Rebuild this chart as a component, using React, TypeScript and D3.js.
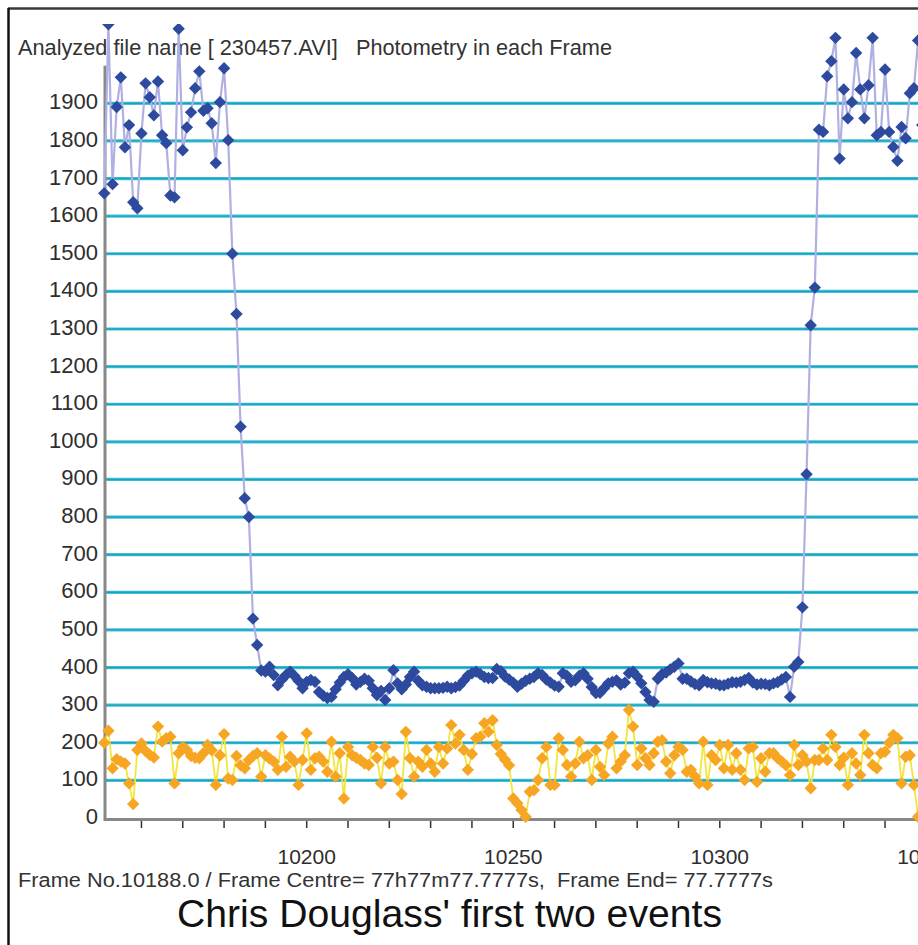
import { useRef, useEffect } from "react";
import * as d3 from "d3";

// ── Constants ─────────────────────────────────────────────────────────────────

const WIDTH = 918;
const HEIGHT = 945;
const FONT = "'Liberation Sans', Arial, sans-serif";

const TITLE = "Analyzed file name [ 230457.AVI]   Photometry in each Frame";
const FOOTER = "Frame No.10188.0 / Frame Centre= 77h77m77.7777s,  Frame End= 77.7777s";
const CAPTION = "Chris Douglass' first two events";

const FRAME_START = 10151;

// star (blue) – one value per frame from FRAME_START
const STAR_VALUES = [
  1661, 2110, 1685, 1890, 1969, 1783, 1842, 1637, 1621, 1820,
  1953, 1916, 1868, 1958, 1815, 1794, 1655, 1650, 2098, 1775,
  1836, 1876, 1940, 1985, 1880, 1887, 1847, 1741, 1903, 1993,
  1802, 1500, 1340, 1040, 850, 800, 530, 460,
  392, 389, 402, 380, 353, 368, 380, 389, 378, 365,
  345, 362, 367, 362, 335, 325, 319, 322, 342, 360,
  375, 382, 372, 355, 362, 370, 365, 345, 327, 338,
  314, 345, 393, 358, 342, 355, 375, 389, 365, 353,
  349, 345, 345, 345, 346, 349, 345, 348, 352, 365,
  378, 385, 389, 383, 375, 372, 372, 396, 390, 376,
  368, 360, 349, 357, 365, 370, 375, 385, 380, 368,
  360, 352, 349, 385, 378, 362, 366, 378, 385, 370,
  348, 332, 333, 345, 358, 362, 366, 355, 360, 385,
  389, 376, 358, 335, 314, 309, 370, 382, 387, 395,
  402, 411, 370, 370, 363, 356, 353, 367, 361, 358,
  357, 353, 353, 357, 361, 360, 362, 367, 372, 360,
  355, 357, 356, 353, 358, 361, 368, 375, 322,
  402, 415, 560, 914, 1310, 1410, 1830, 1824,
  1972, 2012, 2074, 1753, 1937, 1860, 1903, 2034, 1937, 1860,
  1948, 2074, 1815, 1824, 1990, 1824, 1784, 1747, 1837, 1807,
  1927, 1940, 2067, 1842,
];

// sky (orange) – one value per frame from FRAME_START
const SKY_VALUES = [
  200, 232, 132, 156, 150, 145, 92, 37, 181, 198,
  178, 168, 161, 243, 203, 212, 216, 92, 172, 189,
  181, 165, 160, 159, 172, 194, 180, 88, 167, 223,
  105, 101, 165, 140, 132, 154, 165, 172, 110, 167,
  158, 150, 128, 216, 136, 163, 150, 88, 154, 225,
  128, 159, 163, 150, 123, 203, 110, 172, 52, 189,
  167, 160, 154, 145, 141, 189,
  160, 92, 189, 145, 150, 101, 64, 229, 159, 110,
  150, 136, 181, 145, 123, 189, 145, 185, 247, 198,
  221, 181, 128, 170, 212, 216, 252, 229, 260, 194,
  170, 155, 140, 52, 39, 21, 3, 70, 74, 101,
  159, 189, 88, 88, 212, 181, 141, 110, 145, 203,
  159, 167, 101, 181, 136, 114, 198, 216, 132, 150,
  167, 287, 243, 141, 185, 159, 141, 172, 203,
  207, 150, 119, 167, 189, 181, 123, 128, 110, 92,
  203, 88, 167, 154, 194, 132, 194, 128, 172, 128,
  101, 185, 189, 96, 159, 123, 172, 172, 159, 150,
  140, 114, 194, 141, 167, 150, 79, 154, 154, 185,
  154, 221, 189, 141, 160, 88, 172, 145, 114, 221,
  172, 141, 132, 172, 176, 200, 221, 212, 92, 163,
  167, 88, 3,
];

const Y_TICKS = [0, 100, 200, 300, 400, 500, 600, 700, 800, 900, 1000, 1100, 1200, 1300, 1400, 1500, 1600, 1700, 1800, 1900];
const X_TICKS = [10160, 10170, 10180, 10190, 10200, 10210, 10220, 10230, 10240, 10250, 10260, 10270, 10280, 10290, 10300, 10310, 10320, 10330, 10340, 10350];
const X_LABELS = [10200, 10250, 10300, 10350];

const STAR_COLOR = "#2d4a9e";
const STAR_LINE = "#b0b0e2";
const SKY_COLOR = "#f6a623";
const SKY_LINE = "#f3e53a";
const GRID_COLOR = "#1fb0cc";

// ── D3 render ─────────────────────────────────────────────────────────────────

function render(svg: SVGSVGElement): void {
  const root = d3.select(svg);
  root.selectAll("*").remove();

  const x = d3.scaleLinear().domain([10200, 10300]).range([306.7, 719.8]);
  const y = d3.scaleLinear().domain([0, 1900]).range([818, 103.3]);

  root.append("rect").attr("width", WIDTH).attr("height", HEIGHT).attr("fill", "#fff");

  // outer frame
  root.append("line").attr("x1", 8).attr("x2", WIDTH).attr("y1", 8.5).attr("y2", 8.5)
    .attr("stroke", "#3a3a3a").attr("stroke-width", 2.5);
  root.append("line").attr("x1", 8.5).attr("x2", 8.5).attr("y1", 8).attr("y2", HEIGHT)
    .attr("stroke", "#111").attr("stroke-width", 2.5);

  // title
  root.append("text")
    .attr("x", 18).attr("y", 55)
    .attr("font-family", FONT).attr("font-size", 21.5).attr("fill", "#333")
    .attr("textLength", 594).attr("lengthAdjust", "spacingAndGlyphs")
    .style("white-space", "pre")
    .text(TITLE);

  // grid lines
  root.selectAll(".grid")
    .data(Y_TICKS.filter((d) => d > 0))
    .join("line")
    .attr("x1", 105).attr("x2", WIDTH)
    .attr("y1", (d) => y(d)).attr("y2", (d) => y(d))
    .attr("stroke", GRID_COLOR).attr("stroke-width", 3.2).attr("opacity", 0.8);
  root.selectAll(".grid2")
    .data(Y_TICKS.filter((d) => d > 0))
    .join("line")
    .attr("x1", 105).attr("x2", WIDTH)
    .attr("y1", (d) => y(d)).attr("y2", (d) => y(d))
    .attr("stroke", "#12a6c4").attr("stroke-width", 1.4);

  // y labels
  root.selectAll(".ylab")
    .data(Y_TICKS)
    .join("text")
    .attr("x", 98).attr("y", (d) => y(d) + 6)
    .attr("text-anchor", "end")
    .attr("font-family", FONT).attr("font-size", 22).attr("fill", "#2e2e2e")
    .text((d) => String(d));

  // axes
  root.append("line").attr("x1", 105).attr("x2", 105).attr("y1", y(2000)).attr("y2", 821)
    .attr("stroke", "#888").attr("stroke-width", 3);
  root.append("line").attr("x1", 104).attr("x2", WIDTH).attr("y1", 819.5).attr("y2", 819.5)
    .attr("stroke", "#888").attr("stroke-width", 3);

  root.selectAll(".xtick")
    .data(X_TICKS)
    .join("line")
    .attr("x1", (d) => x(d)).attr("x2", (d) => x(d))
    .attr("y1", 821).attr("y2", 828)
    .attr("stroke", "#333").attr("stroke-width", 1.5);

  root.selectAll(".xlab")
    .data(X_LABELS)
    .join("text")
    .attr("x", (d) => x(d)).attr("y", 864)
    .attr("text-anchor", "middle")
    .attr("font-family", FONT).attr("font-size", 21).attr("fill", "#2e2e2e")
    .text((d) => String(d));

  // footer
  root.append("text")
    .attr("x", 18).attr("y", 887)
    .attr("font-family", FONT).attr("font-size", 20).attr("fill", "#333")
    .attr("textLength", 755).attr("lengthAdjust", "spacingAndGlyphs")
    .style("white-space", "pre")
    .text(FOOTER);
  root.append("text")
    .attr("x", 177).attr("y", 927)
    .attr("font-family", FONT).attr("font-size", 39).attr("fill", "#111")
    .attr("textLength", 545).attr("lengthAdjust", "spacingAndGlyphs")
    .text(CAPTION);

  // data
  const defs = root.append("defs");
  defs.append("clipPath").attr("id", "plot-clip")
    .append("rect").attr("x", 95).attr("y", 24).attr("width", WIDTH - 95).attr("height", 810);

  const plot = root.append("g").attr("clip-path", "url(#plot-clip)");
  const diamond = "M0,-6.2L6.2,0L0,6.2L-6.2,0Z";

  const series = [
    { values: STAR_VALUES, line: STAR_LINE, marker: STAR_COLOR, width: 2.2 },
    { values: SKY_VALUES, line: SKY_LINE, marker: SKY_COLOR, width: 1.8 },
  ];

  series.forEach((s) => {
    const pts = s.values.map((v, i) => ({ f: FRAME_START + i, v }));
    const line = d3.line<{ f: number; v: number }>().x((d) => x(d.f)).y((d) => y(d.v));
    plot.append("path").attr("d", line(pts)).attr("fill", "none")
      .attr("stroke", s.line).attr("stroke-width", s.width);
    plot.selectAll(null)
      .data(pts)
      .join("path")
      .attr("d", diamond)
      .attr("transform", (d) => `translate(${x(d.f)},${y(d.v)})`)
      .attr("fill", s.marker);
  });
}

// ── Component ─────────────────────────────────────────────────────────────────

export default function App() {
  const svgRef = useRef<SVGSVGElement>(null);

  useEffect(() => {
    document.body.style.margin = "0";
    if (svgRef.current) render(svgRef.current);
  }, []);

  return (
    <svg
      ref={svgRef}
      width={WIDTH}
      height={HEIGHT}
      viewBox={`0 0 ${WIDTH} ${HEIGHT}`}
      style={{ display: "block" }}
    />
  );
}
